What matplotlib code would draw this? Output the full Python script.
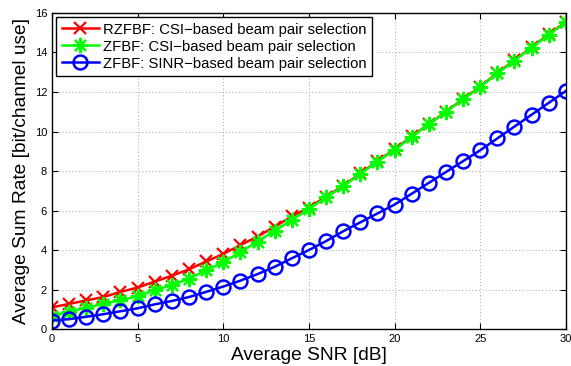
import numpy as np
import matplotlib
matplotlib.use("Agg")
import matplotlib.pyplot as plt

plt.rcParams['font.family'] = ['Liberation Sans', 'DejaVu Sans']

snr_db = list(range(0, 31))
rzfbf_csi = [1.10, 1.27, 1.45, 1.62, 1.88, 2.10, 2.40, 2.70, 3.02, 3.42, 3.80,
             4.25, 4.68, 5.18, 5.70, 6.15, 6.70, 7.25, 7.88, 8.50, 9.10,
             9.75, 10.38, 11.00, 11.65, 12.27, 12.97, 13.60, 14.27, 14.92, 15.56]
zfbf_csi = [0.67, 0.88, 1.08, 1.27, 1.47, 1.65, 1.97, 2.22, 2.55, 2.97, 3.38,
            3.90, 4.42, 4.98, 5.52, 6.08, 6.66, 7.22, 7.86, 8.48, 9.07,
            9.73, 10.37, 10.99, 11.63, 12.25, 12.95, 13.58, 14.25, 14.90, 15.54]
zfbf_sinr = [0.43, 0.50, 0.62, 0.75, 0.90, 1.05, 1.25, 1.42, 1.62, 1.88, 2.15,
             2.45, 2.78, 3.15, 3.58, 4.00, 4.45, 4.95, 5.40, 5.85, 6.30,
             6.85, 7.40, 7.95, 8.50, 9.05, 9.65, 10.25, 10.85, 11.45, 12.05]

labels = ["RZFBF: CSI\u2212based beam pair selection",
          "ZFBF: CSI\u2212based beam pair selection",
          "ZFBF: SINR\u2212based beam pair selection"]

fig = plt.figure(figsize=(5.71, 3.66), dpi=100)
ax = fig.add_axes([0.091, 0.101, 0.9, 0.8635])

ax.plot(snr_db, rzfbf_csi, color='red', lw=1.8, marker='x', ms=8, mew=1.6, label=labels[0])
ax.plot(snr_db, zfbf_csi, color='#00ff00', lw=1.8, marker=(8, 2, 0), ms=11, mew=1.6, label=labels[1])
ax.plot(snr_db, zfbf_sinr, color='blue', lw=1.8, marker='o', ms=10, mew=1.8, mfc='none', label=labels[2])

ax.set_xlim(0, 30)
ax.set_ylim(0, 16)
ax.set_xticks(range(0, 31, 5))
ax.set_yticks(range(0, 17, 2))
ax.tick_params(direction='in', top=True, right=True, labelsize=8, length=4, width=0.8)
ax.grid(True, linestyle=(0, (1, 3)), color='#888888', linewidth=0.6)
for s in ax.spines.values():
    s.set_linewidth(1.0)

ax.set_xlabel("Average SNR [dB]", fontsize=13.8, labelpad=2)
ax.set_ylabel("Average Sum Rate [bit/channel use]", fontsize=13.8, labelpad=3)

leg = ax.legend(loc='upper left', fontsize=10.7, fancybox=False, framealpha=1,
                edgecolor='black', borderpad=0.35, labelspacing=0.2,
                handlelength=2.5, handletextpad=0.3, borderaxespad=0.3)
leg.get_frame().set_linewidth(1.0)

plt.savefig("out.png", dpi=100)
plt.close()
